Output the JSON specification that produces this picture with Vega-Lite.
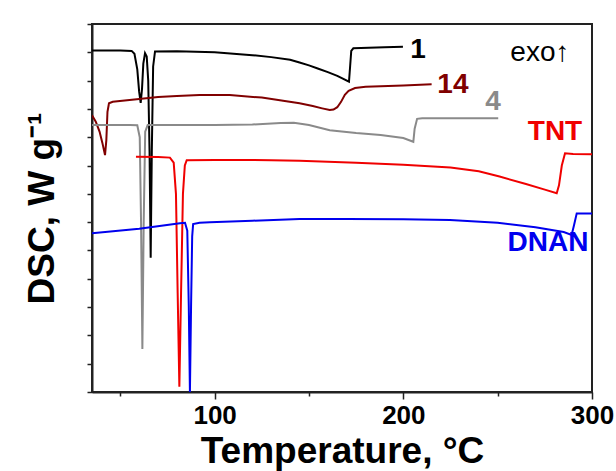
{
  "$schema": "https://vega.github.io/schema/vega-lite/v6.json",
  "width": 500,
  "height": 368,
  "autosize": {"type": "none"},
  "padding": {"left": 92, "top": 24, "right": 24, "bottom": 79},
  "background": "white",
  "config": {
    "view": {"stroke": "#222222", "strokeWidth": 2},
    "font": "Liberation Sans"
  },
  "datasets": {
    "curves": [
      {"s":"1","t":35,"v":12.06},{"s":"1","t":50,"v":12.06},{"s":"1","t":56,"v":12.05},{"s":"1","t":57.5,"v":11.95},{"s":"1","t":59,"v":11.4},{"s":"1","t":60,"v":10.6},{"s":"1","t":60.8,"v":10.21},{"s":"1","t":61.5,"v":10.7},{"s":"1","t":62.2,"v":11.6},{"s":"1","t":63.1,"v":11.97},{"s":"1","t":64,"v":11.85},{"s":"1","t":64.8,"v":11.0},{"s":"1","t":65.5,"v":8.5},{"s":"1","t":66.1,"v":4.74},{"s":"1","t":66.7,"v":8.5},{"s":"1","t":67.4,"v":11.5},{"s":"1","t":68.4,"v":12.03},{"s":"1","t":80,"v":12.04},{"s":"1","t":100,"v":12.0},{"s":"1","t":120,"v":11.9},{"s":"1","t":130,"v":11.83},{"s":"1","t":140,"v":11.74},{"s":"1","t":145,"v":11.64},{"s":"1","t":150,"v":11.54},{"s":"1","t":155,"v":11.42},{"s":"1","t":160,"v":11.3},{"s":"1","t":165,"v":11.17},{"s":"1","t":171.2,"v":10.96},{"s":"1","t":171.8,"v":11.5},{"s":"1","t":172.4,"v":12.05},{"s":"1","t":173.5,"v":12.14},{"s":"1","t":190,"v":12.18},{"s":"1","t":199.8,"v":12.2},

      {"s":"14","t":35,"v":9.78},{"s":"14","t":37,"v":9.55},{"s":"14","t":39,"v":9.2},{"s":"14","t":40.5,"v":8.8},{"s":"14","t":41.9,"v":8.37},{"s":"14","t":42.6,"v":8.9},{"s":"14","t":43.2,"v":9.9},{"s":"14","t":44,"v":10.2},{"s":"14","t":46,"v":10.25},{"s":"14","t":60,"v":10.35},{"s":"14","t":70,"v":10.42},{"s":"14","t":80,"v":10.46},{"s":"14","t":92,"v":10.49},{"s":"14","t":108,"v":10.49},{"s":"14","t":125,"v":10.4},{"s":"14","t":145,"v":10.2},{"s":"14","t":152,"v":10.1},{"s":"14","t":157,"v":10.02},{"s":"14","t":161,"v":9.96},{"s":"14","t":163,"v":9.98},{"s":"14","t":165,"v":10.06},{"s":"14","t":167,"v":10.25},{"s":"14","t":169,"v":10.5},{"s":"14","t":171,"v":10.64},{"s":"14","t":174.4,"v":10.74},{"s":"14","t":180,"v":10.78},{"s":"14","t":200,"v":10.83},{"s":"14","t":215,"v":10.87},

      {"s":"4","t":35,"v":9.43},{"s":"4","t":55,"v":9.43},{"s":"4","t":59,"v":9.42},{"s":"4","t":60.3,"v":9.0},{"s":"4","t":61,"v":6},{"s":"4","t":61.7,"v":1.52},{"s":"4","t":62.4,"v":6},{"s":"4","t":63.2,"v":9.2},{"s":"4","t":64.5,"v":9.43},{"s":"4","t":100,"v":9.43},{"s":"4","t":120,"v":9.45},{"s":"4","t":135,"v":9.5},{"s":"4","t":142,"v":9.51},{"s":"4","t":150,"v":9.43},{"s":"4","t":161,"v":9.25},{"s":"4","t":175,"v":9.15},{"s":"4","t":188,"v":9.08},{"s":"4","t":200,"v":8.97},{"s":"4","t":205.3,"v":8.84},{"s":"4","t":206,"v":9.3},{"s":"4","t":207.3,"v":9.65},{"s":"4","t":210,"v":9.67},{"s":"4","t":250.3,"v":9.67},

      {"s":"TNT","t":58.3,"v":8.31},{"s":"TNT","t":70,"v":8.3},{"s":"TNT","t":76.3,"v":8.28},{"s":"TNT","t":78.3,"v":8.1},{"s":"TNT","t":79.5,"v":7.0},{"s":"TNT","t":80.4,"v":3.5},{"s":"TNT","t":81.3,"v":0.19},{"s":"TNT","t":82.2,"v":3.5},{"s":"TNT","t":83.2,"v":7.0},{"s":"TNT","t":84.2,"v":8.0},{"s":"TNT","t":85.2,"v":8.19},{"s":"TNT","t":100,"v":8.2},{"s":"TNT","t":130,"v":8.19},{"s":"TNT","t":145,"v":8.17},{"s":"TNT","t":175,"v":8.1},{"s":"TNT","t":200,"v":8.03},{"s":"TNT","t":225,"v":7.93},{"s":"TNT","t":240,"v":7.8},{"s":"TNT","t":251,"v":7.61},{"s":"TNT","t":265,"v":7.35},{"s":"TNT","t":275,"v":7.15},{"s":"TNT","t":281.3,"v":7.02},{"s":"TNT","t":282.5,"v":7.3},{"s":"TNT","t":284,"v":8.0},{"s":"TNT","t":285.7,"v":8.43},{"s":"TNT","t":290,"v":8.41},{"s":"TNT","t":300,"v":8.4},

      {"s":"DNAN","t":35,"v":5.61},{"s":"DNAN","t":60,"v":5.77},{"s":"DNAN","t":81.6,"v":5.96},{"s":"DNAN","t":84.3,"v":5.98},{"s":"DNAN","t":85.5,"v":5.7},{"s":"DNAN","t":86.3,"v":3},{"s":"DNAN","t":86.9,"v":0},{"s":"DNAN","t":87.5,"v":3},{"s":"DNAN","t":88.1,"v":5.5},{"s":"DNAN","t":88.6,"v":5.93},{"s":"DNAN","t":92,"v":5.98},{"s":"DNAN","t":97.5,"v":6.0},{"s":"DNAN","t":120,"v":6.05},{"s":"DNAN","t":145,"v":6.11},{"s":"DNAN","t":170,"v":6.11},{"s":"DNAN","t":200,"v":6.1},{"s":"DNAN","t":224.7,"v":6.08},{"s":"DNAN","t":250,"v":5.98},{"s":"DNAN","t":270,"v":5.82},{"s":"DNAN","t":285,"v":5.65},{"s":"DNAN","t":289.2,"v":5.55},{"s":"DNAN","t":290.5,"v":5.9},{"s":"DNAN","t":291.9,"v":6.31},{"s":"DNAN","t":300,"v":6.31}
    ],
    "labels": [
      {"s":"1","label":"1","t":207.8,"v":12.08},
      {"s":"14","label":"14","t":226.3,"v":10.84},
      {"s":"4","label":"4","t":247.5,"v":10.24},
      {"s":"TNT","label":"TNT","t":280.4,"v":9.19},
      {"s":"DNAN","label":"DNAN","t":276.7,"v":5.26}
    ],
    "exo": [
      {"s":"1","label":"exo↑","t":272.4,"v":11.97}
    ]
  },
  "encoding": {
    "x": {
      "field": "t", "type": "quantitative",
      "scale": {"domain": [35, 300], "nice": false, "zero": false},
      "axis": {
        "title": "Temperature, °C",
        "titleFontSize": 37, "titleFontWeight": "bold", "titleColor": "#000000", "titlePadding": 5,
        "titleFont": "Liberation Sans",
        "values": [50, 100, 150, 200, 250, 300],
        "labelExpr": "datum.value % 100 === 0 ? datum.label : ''",
        "labelFontSize": 26, "labelFontWeight": "bold", "labelColor": "#000000", "labelPadding": 3,
        "labelFont": "Liberation Sans",
        "tickSize": {"condition": {"test": "datum.value % 100 === 0", "value": 7}, "value": 4},
        "tickColor": "#222222", "tickWidth": 1.5,
        "domainColor": "#222222", "domainWidth": 2,
        "grid": false, "labelFlush": false, "labelOverlap": false
      }
    },
    "y": {
      "field": "v", "type": "quantitative",
      "scale": {"domain": [0, 13], "nice": false, "zero": false},
      "axis": {
        "title": "DSC, W g⁻¹",
        "titleFontSize": 37, "titleFontWeight": "bold", "titleColor": "#000000", "titlePadding": 25,
        "titleFont": "Liberation Sans",
        "values": [0,1,2,3,4,5,6,7,8,9,10,11,12,13],
        "labels": false,
        "tickSize": 5, "tickColor": "#222222", "tickWidth": 1.5,
        "domainColor": "#222222", "domainWidth": 2,
        "grid": false
      }
    },
    "color": {
      "field": "s", "type": "nominal",
      "scale": {"domain": ["1", "14", "4", "TNT", "DNAN"], "range": ["#000000", "#800000", "#8a8a8a", "#f00000", "#0000ee"]},
      "legend": null
    }
  },
  "layer": [
    {
      "data": {"name": "curves"},
      "mark": {"type": "line", "strokeWidth": 2, "interpolate": "linear", "clip": true}
    },
    {
      "data": {"name": "labels"},
      "mark": {"type": "text", "fontSize": 28, "fontWeight": "bold", "align": "center", "baseline": "middle", "font": "Liberation Sans"},
      "encoding": {
        "text": {"field": "label"}
      }
    },
    {
      "data": {"name": "exo"},
      "mark": {"type": "text", "fontSize": 28, "fontWeight": "normal", "align": "center", "baseline": "middle", "font": "Liberation Sans"},
      "encoding": {
        "text": {"field": "label"}
      }
    }
  ]
}
